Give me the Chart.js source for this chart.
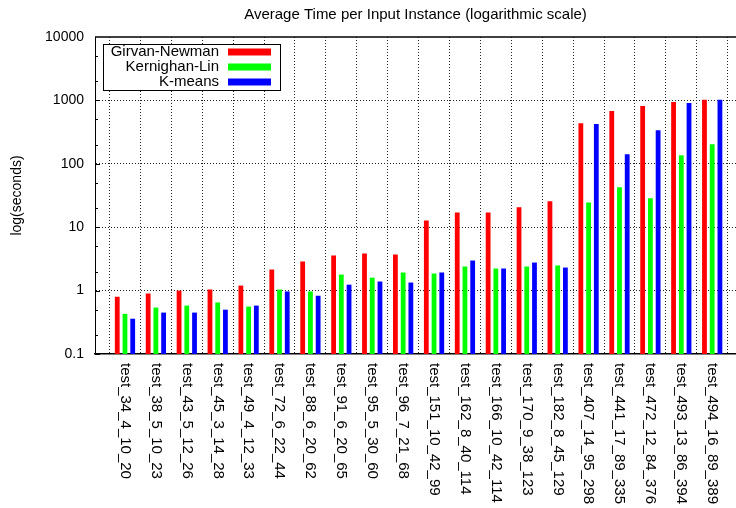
<!DOCTYPE html>
<html>
<head>
<meta charset="utf-8">
<script src="https://cdn.jsdelivr.net/npm/chart.js@4"></script>
<style>
  body { margin: 0; background: #fff; }
</style>
</head>
<body>
<canvas id="chart" width="736" height="508"></canvas>
<script>
const instances = [
    'test_34_4_10_20', 'test_38_5_10_23', 'test_43_5_12_26', 'test_45_3_14_28', 'test_49_4_12_33',
    'test_72_6_22_44', 'test_88_6_20_62', 'test_91_6_20_65', 'test_95_5_30_60', 'test_96_7_21_68',
    'test_151_10_42_99', 'test_162_8_40_114', 'test_166_10_42_114', 'test_170_9_38_123', 'test_182_8_45_129',
    'test_407_14_95_298', 'test_441_17_89_335', 'test_472_12_84_376', 'test_493_13_86_394', 'test_494_16_89_389'
];
const girvanNewman = [0.80, 0.90, 1.0, 1.04, 1.2, 2.15, 2.88, 3.58, 3.85, 3.71,
    12.8, 17.1, 17.1, 20.6, 25.6, 438, 680, 815, 945, 1020];
const kernighanLin = [0.43, 0.54, 0.58, 0.65, 0.56, 1.04, 0.97, 1.79, 1.60, 1.93,
    1.86, 2.4, 2.23, 2.4, 2.49, 24.6, 42.7, 28.5, 137, 204];
const kMeans = [0.36, 0.45, 0.45, 0.50, 0.58, 0.97, 0.83, 1.24, 1.39, 1.34,
    1.93, 2.98, 2.23, 2.77, 2.31, 424, 141, 339, 912, 1020];
const seriesNames = ['Girvan-Newman', 'Kernighan-Lin', 'K-means'];
const yTicks = [0.1, 1, 10, 100, 1000, 10000];

const series = [girvanNewman, kernighanLin, kMeans];
const colors = ['#ff0000', '#00ff00', '#0000ff'];
const FONT = "'Liberation Sans', Arial, sans-serif";

// gnuplot-like extras: top border, inward minor tics, rotated x labels, boxed key
const gnuplotLook = {
    id: 'gnuplotLook',
    afterDraw(chart) {
        const ctx = chart.ctx;
        const area = chart.chartArea;
        const x = chart.scales.x;
        const y = chart.scales.y;
        ctx.save();

        // top border
        ctx.strokeStyle = '#000';
        ctx.lineWidth = 1.5;
        ctx.beginPath();
        ctx.moveTo(area.left, area.top);
        ctx.lineTo(area.right, area.top);
        ctx.stroke();

        // y tics, pointing inward
        ctx.lineWidth = 1;
        ctx.beginPath();
        for (let d = 0.1; d < 10000; d *= 10) {
            [1, 2, 5].forEach(m => {
                const py = Math.round(y.getPixelForValue(d * m)) + 0.5;
                const len = m === 1 ? 5 : 3;
                ctx.moveTo(area.left, py);
                ctx.lineTo(area.left + len, py);
            });
        }
        ctx.stroke();

        // x labels, reading top to bottom
        ctx.fillStyle = '#000';
        ctx.font = '15px ' + FONT;
        ctx.textAlign = 'left';
        ctx.textBaseline = 'middle';
        instances.forEach((name, i) => {
            ctx.save();
            ctx.translate(x.getPixelForValue(i), area.bottom + 9);
            ctx.rotate(Math.PI / 2);
            ctx.fillText(name, 0, 0);
            ctx.restore();
        });

        // key
        const kx = 103, ky = 44, kw = 177, kh = 46;
        ctx.fillStyle = '#fff';
        ctx.fillRect(kx, ky, kw, kh);
        ctx.strokeStyle = '#000';
        ctx.strokeRect(kx + 0.5, ky + 0.5, kw, kh);
        ctx.textAlign = 'right';
        seriesNames.forEach((name, k) => {
            const ry = ky + 8 + k * 15;
            ctx.fillStyle = '#000';
            ctx.fillText(name, kx + 116, ry);
            ctx.fillStyle = colors[k];
            ctx.fillRect(kx + 125, ry - 3.5, 43, 7);
        });
        ctx.restore();
    }
};

new Chart(document.getElementById('chart'), {
    type: 'bar',
    data: {
        datasets: seriesNames.map((name, k) => ({
            label: name,
            data: series[k].map((v, i) => ({ x: i, y: v })),
            backgroundColor: colors[k],
            borderWidth: 0,
            categoryPercentage: 0.75,
            barPercentage: 0.62,
        })),
    },
    options: {
        responsive: false,
        animation: false,
        plugins: {
            legend: { display: false },
            tooltip: { enabled: false },
            title: {
                display: true,
                text: 'Average Time per Input Instance (logarithmic scale)',
                fullSize: false,
                color: '#000',
                font: { family: FONT, size: 15, weight: 'normal' },
                padding: { top: 6, bottom: 13 },
            },
        },
        scales: {
            x: {
                type: 'linear',
                min: -0.97,
                max: 19.77,
                offset: false,
                afterBuildTicks: s => { s.ticks = instances.map((_, i) => ({ value: i })); },
                afterFit: s => { s.height = 154; },
                ticks: { display: false },
                grid: { color: '#222', lineWidth: 1, drawTicks: false },
                border: { display: true, color: '#000', width: 1.5, dash: [1, 2] },
            },
            y: {
                type: 'logarithmic',
                min: 0.1,
                max: 10000,
                afterBuildTicks: s => { s.ticks = yTicks.map(v => ({ value: v })); },
                afterFit: s => { s.width = 95; },
                ticks: {
                    callback: v => String(v),
                    color: '#000',
                    font: { family: FONT, size: 14 },
                    padding: 11,
                },
                grid: {
                    drawTicks: false,
                    lineWidth: 1,
                    color: c => (c.tick && (c.tick.value === 0.1 || c.tick.value === 10000)) ? 'rgba(0,0,0,0)' : '#222',
                },
                border: { display: true, color: '#000', width: 1, dash: [1, 2] },
                title: {
                    display: true,
                    text: 'log(seconds)',
                    color: '#000',
                    font: { family: FONT, size: 14 },
                    padding: { top: 9, bottom: 0 },
                },
            },
        },
    },
    plugins: [gnuplotLook],
});
</script>
</body>
</html>
